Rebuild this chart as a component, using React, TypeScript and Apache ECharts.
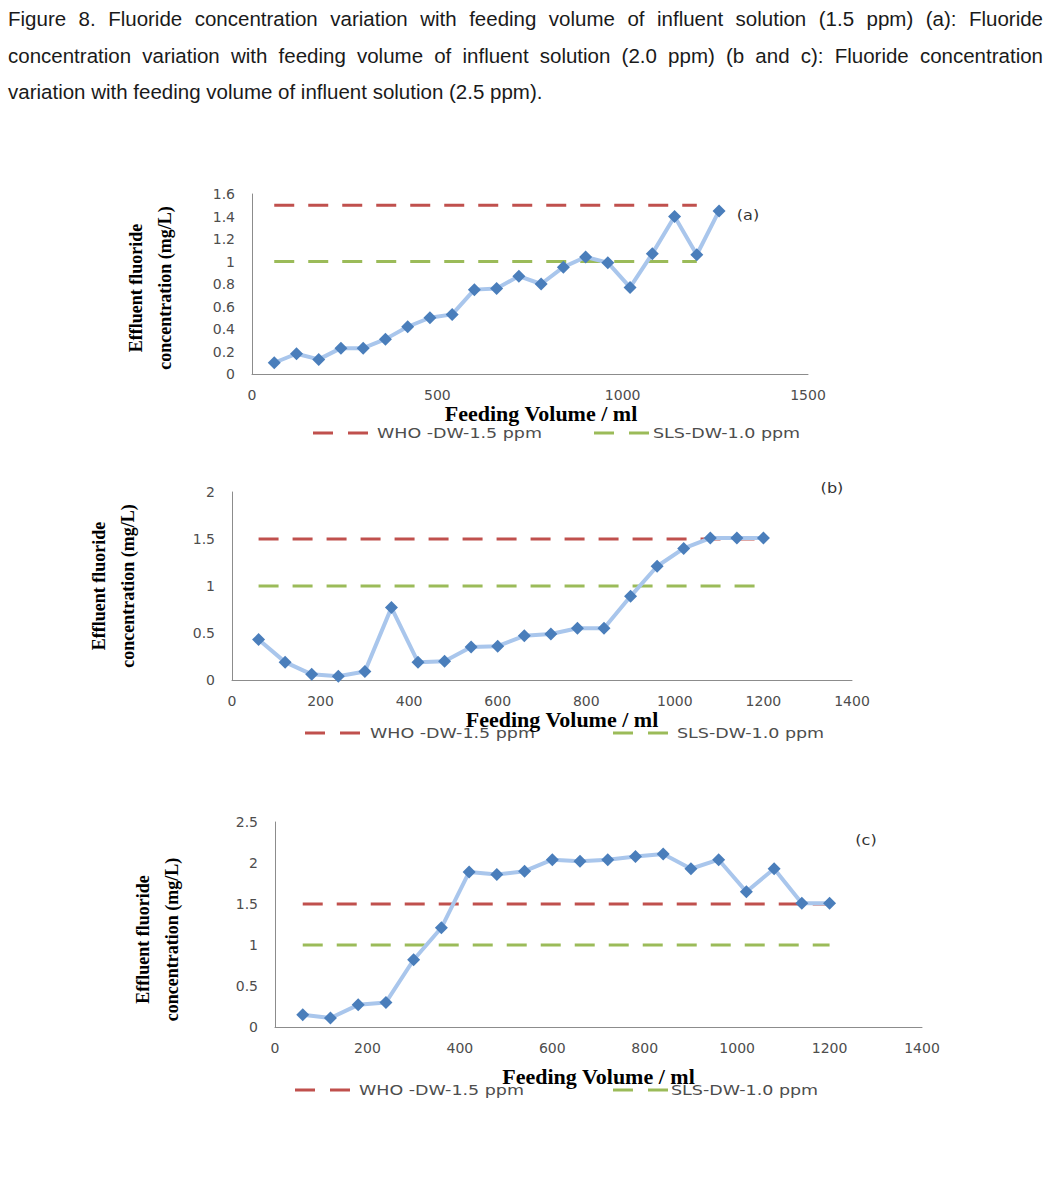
import React, { useEffect, useRef } from "react";
import * as echarts from "echarts";

// ---------- data ----------
const volumesA = [60, 120, 180, 240, 300, 360, 420, 480, 540, 600, 660, 720, 780, 840, 900, 960, 1020, 1080, 1140, 1200, 1260];
const fluorideA = [0.10, 0.18, 0.13, 0.23, 0.23, 0.31, 0.42, 0.50, 0.53, 0.75, 0.76, 0.87, 0.80, 0.95, 1.04, 0.99, 0.77, 1.07, 1.40, 1.06, 1.45];

const volumesBC = [60, 120, 180, 240, 300, 360, 420, 480, 540, 600, 660, 720, 780, 840, 900, 960, 1020, 1080, 1140, 1200];
const fluorideB = [0.43, 0.19, 0.06, 0.04, 0.09, 0.77, 0.19, 0.20, 0.35, 0.36, 0.47, 0.49, 0.55, 0.55, 0.89, 1.21, 1.40, 1.51, 1.51, 1.51];
const fluorideC = [0.15, 0.11, 0.27, 0.30, 0.82, 1.21, 1.89, 1.86, 1.90, 2.04, 2.02, 2.04, 2.08, 2.11, 1.93, 2.04, 1.65, 1.93, 1.51, 1.51];

const limitVolumes = [60, 1200];
const whoLimit = 1.5;
const slsLimit = 1.0;
const whoName = "WHO -DW-1.5 ppm";
const slsName = "SLS-DW-1.0 ppm";

const panelTags = ["(a)", "(b)", "(c)"];
const xMaxes = [1500, 1400, 1400];
const xIntervals = [500, 200, 200];
const yMaxes = [1.6, 2, 2.5];
const yIntervals = [0.2, 0.5, 0.5];

const xTitle = "Feeding Volume / ml";
const yTitle = "Effluent fluoride\nconcentration (mg/L)";

const captionLines = [
  "Figure 8. Fluoride concentration variation with feeding volume of influent solution (1.5 ppm) (a): Fluoride",
  "concentration variation with feeding volume of influent solution (2.0 ppm) (b and c): Fluoride concentration",
  "variation with feeding volume of influent solution (2.5 ppm).",
];

// ---------- layout ----------
const panels = [
  {
    volumes: volumesA, values: fluorideA,
    grid: { left: 252, top: 194, width: 556, height: 180 },
    xNameGap: 27, xNameShift: 22, yNameGap: 73, yNamePad: [0, 8, 0, 0],
    tag: { x: 748, y: 215 },
    legend: { y: 433, redIcon: 313, redText: 377, greenIcon: 594, greenText: 653 },
  },
  {
    volumes: volumesBC, values: fluorideB,
    grid: { left: 232, top: 492, width: 620, height: 188 },
    xNameGap: 26, xNameShift: 40, yNameGap: 90, yNamePad: [0, 0, 0, 0],
    tag: { x: 832, y: 488 },
    legend: { y: 733, redIcon: 305, redText: 370, greenIcon: 613, greenText: 677 },
  },
  {
    volumes: volumesBC, values: fluorideC,
    grid: { left: 275, top: 822, width: 647, height: 205 },
    xNameGap: 38, xNameShift: 0, yNameGap: 89, yNamePad: [0, 30, 0, 0],
    tag: { x: 866, y: 840 },
    legend: { y: 1090, redIcon: 295, redText: 359, greenIcon: 613, greenText: 671 },
  },
];

const RED = "#C0504D";
const GREEN = "#9BBB59";
const MARKER = "#4A7EBB";
const LINE = "#A9C6EC";
const AXIS = "#8C8C8C";
const LABEL = "#4D4D4D";

function legendItems(p: any) {
  const L = p.legend;
  const mk = (iconX: number, textX: number, color: string, text: string) => [
    {
      type: "line",
      silent: true,
      shape: { x1: iconX, y1: L.y, x2: iconX + 55, y2: L.y },
      style: { stroke: color, lineWidth: 3, lineDash: [20, 15] },
    },
    {
      type: "text",
      silent: true,
      x: textX,
      y: L.y,
      scaleX: 1.25,
      style: {
        text,
        fontFamily: "DejaVu Sans",
        fontSize: 14,
        fill: LABEL,
        textAlign: "left",
        textVerticalAlign: "middle",
      },
    },
  ];
  return [...mk(L.redIcon, L.redText, RED, whoName), ...mk(L.greenIcon, L.greenText, GREEN, slsName)];
}

export default function App() {
  const ref = useRef<HTMLDivElement>(null);

  useEffect(() => {
    if (!ref.current) return;
    const chart = echarts.init(ref.current, null, { renderer: "svg" });

    const series: any[] = [];
    panels.forEach((p, i) => {
      series.push({
        type: "line",
        name: whoName,
        xAxisIndex: i,
        yAxisIndex: i,
        data: limitVolumes.map((v) => [v, whoLimit]),
        symbol: "none",
        silent: true,
        lineStyle: { color: RED, width: 3, type: [20, 14] },
        z: 2,
      });
      series.push({
        type: "line",
        name: slsName,
        xAxisIndex: i,
        yAxisIndex: i,
        data: limitVolumes.map((v) => [v, slsLimit]),
        symbol: "none",
        silent: true,
        lineStyle: { color: GREEN, width: 3, type: [20, 14] },
        z: 2,
      });
      series.push({
        type: "line",
        name: "Effluent fluoride " + panelTags[i],
        xAxisIndex: i,
        yAxisIndex: i,
        data: p.volumes.map((v, k) => [v, p.values[k]]),
        symbol: "diamond",
        symbolSize: 13,
        itemStyle: { color: MARKER },
        lineStyle: { color: LINE, width: 4 },
        z: 3,
      });
    });

    const graphics: any[] = [];
    panels.forEach((p, i) => {
      graphics.push(...legendItems(p));
      graphics.push({
        type: "text",
        silent: true,
        x: p.tag.x,
        y: p.tag.y,
        scaleX: 1.15,
        style: {
          text: panelTags[i],
          fontFamily: "DejaVu Sans",
          fontSize: 14,
          fill: "#333333",
          textAlign: "center",
          textVerticalAlign: "middle",
        },
      });
    });

    chart.setOption({
      animation: false,
      backgroundColor: "#ffffff",
      grid: panels.map((p) => ({ ...p.grid, containLabel: false, outerBoundsMode: "none" })),
      xAxis: panels.map((p, i) => ({
        gridIndex: i,
        type: "value",
        min: 0,
        max: xMaxes[i],
        interval: xIntervals[i],
        axisLine: { show: true, lineStyle: { color: AXIS, width: 1 } },
        axisTick: { show: false },
        splitLine: { show: false },
        axisLabel: {
          margin: 14,
          fontFamily: "DejaVu Sans",
          fontSize: 14,
          color: LABEL,
          formatter: (v: number) => String(v),
        },
        name: xTitle,
        nameLocation: "middle",
        nameGap: p.xNameGap,
        nameTextStyle: {
          fontFamily: "Liberation Serif",
          fontWeight: "bold",
          fontSize: 22,
          color: "#000000",
          padding: [0, 0, 0, p.xNameShift],
        },
      })),
      yAxis: panels.map((p, i) => ({
        gridIndex: i,
        type: "value",
        min: 0,
        max: yMaxes[i],
        interval: yIntervals[i],
        axisLine: { show: true, lineStyle: { color: AXIS, width: 1 } },
        axisTick: { show: false },
        splitLine: { show: false },
        axisLabel: {
          margin: 17,
          fontFamily: "DejaVu Sans",
          fontSize: 14,
          color: LABEL,
          formatter: (v: number) => String(Math.round(v * 10) / 10),
        },
        name: yTitle,
        nameLocation: "middle",
        nameRotate: 90,
        nameGap: p.yNameGap,
        nameTextStyle: {
          fontFamily: "Liberation Serif",
          fontWeight: "bold",
          fontSize: 18,
          lineHeight: 29,
          color: "#000000",
          padding: p.yNamePad,
        },
      })),
      series,
      graphic: graphics,
    });

    return () => chart.dispose();
  }, []);

  return (
    <div style={{ position: "absolute", left: 0, top: 0, width: 1045, height: 1192, background: "#fff" }}>
      <div ref={ref} style={{ position: "absolute", left: 0, top: 0, width: 1045, height: 1192 }} />
      <div
        style={{
          position: "absolute",
          left: 8,
          top: 1,
          width: 1035,
          fontFamily: "'Liberation Sans', Arial, sans-serif",
          fontSize: 20.5,
          lineHeight: "36.5px",
          color: "#1a1a1a",
        }}
      >
        {captionLines.map((line, i) => (
          <div
            key={i}
            style={{
              textAlign: i < 2 ? "justify" : "left",
              textAlignLast: i < 2 ? "justify" : "left",
            }}
          >
            {line}
          </div>
        ))}
      </div>
    </div>
  );
}
